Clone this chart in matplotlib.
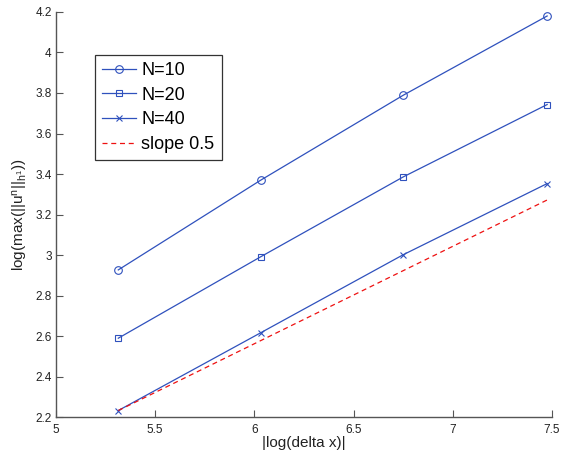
import matplotlib
matplotlib.use("Agg")
import matplotlib.pyplot as plt

plt.rcParams['font.family'] = ['Liberation Sans', 'DejaVu Sans']
plt.rcParams['mathtext.default'] = 'regular'

# |log(delta x)| for the four mesh refinements
log_dx = [5.314, 6.032, 6.750, 7.475]

# log of max discrete h^1 norm for each time resolution
n10 = [2.927, 3.370, 3.789, 4.180]
n20 = [2.590, 2.992, 3.386, 3.743]
n40 = [2.233, 2.617, 3.002, 3.353]

# reference slope line endpoints
slope_x = [5.314, 7.475]
slope_y = [2.233, 3.272]

blue = '#2f51bd'

fig = plt.figure(figsize=(5.83, 4.59), dpi=100)
ax = fig.add_axes([0.096, 0.091, 0.851, 0.883])

ax.plot(log_dx, n10, '-', color=blue, lw=0.9, marker='o', ms=5.5,
        mfc='none', mec=blue, mew=0.8, label='N=10')
ax.plot(log_dx, n20, '-', color=blue, lw=0.9, marker='s', ms=5,
        mfc='none', mec=blue, mew=0.8, label='N=20')
ax.plot(log_dx, n40, '-', color=blue, lw=0.9, marker='x', ms=5,
        mec=blue, mew=0.8, label='N=40')
ax.plot(slope_x, slope_y, '--', color='#ee1111', lw=0.9,
        dashes=(4, 3), label='slope 0.5')

ax.set_xlim(5, 7.5)
ax.set_ylim(2.2, 4.2)
ax.set_xticks([5, 5.5, 6, 6.5, 7, 7.5])
ax.set_xticklabels(['5', '5.5', '6', '6.5', '7', '7.5'])
ax.set_yticks([2.2, 2.4, 2.6, 2.8, 3, 3.2, 3.4, 3.6, 3.8, 4, 4.2])
ax.set_yticklabels(['2.2', '2.4', '2.6', '2.8', '3', '3.2', '3.4', '3.6',
                    '3.8', '4', '4.2'])

for side in ('top', 'right'):
    ax.spines[side].set_visible(False)
for side in ('left', 'bottom'):
    ax.spines[side].set_color('#555555')
    ax.spines[side].set_linewidth(1.0)

ax.tick_params(direction='in', length=5, width=0.8, colors='#555555',
               labelcolor='#222222', labelsize=8.5, pad=3)
ax.tick_params(axis='x', pad=5)

ax.set_xlabel('|log(delta x)|', fontsize=11, color='#222222', labelpad=0)
ax.set_ylabel(r'log(max(||u$^n$||$_{h^1}$))', fontsize=11, color='#222222',
              labelpad=4)

leg = ax.legend(loc='upper left', bbox_to_anchor=(0.079, 0.894), fontsize=13,
                frameon=True, fancybox=False, edgecolor='black',
                handlelength=1.85, handletextpad=0.3, borderpad=0.4,
                labelspacing=0.42, borderaxespad=0.0)
leg.get_frame().set_linewidth(0.9)

fig.savefig('out.png', dpi=100, facecolor='white')
